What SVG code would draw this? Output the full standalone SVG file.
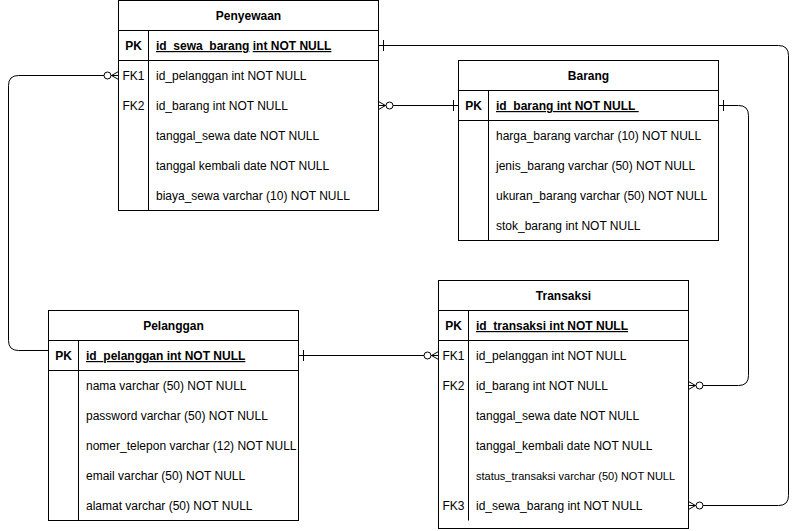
<svg xmlns="http://www.w3.org/2000/svg" width="798" height="531" viewBox="0 0 798 531">
<style>
.box{fill:#fff;stroke:#000;stroke-width:1}
.ln{fill:none;stroke:#000;stroke-width:1}
text{font-family:"Liberation Sans",Arial,sans-serif;font-size:12px;fill:#000}
.t{text-anchor:middle;font-weight:bold}
.k{text-anchor:middle}
.b{font-weight:bold}
.u{text-decoration:underline}
.s{font-size:11px}
</style>
<defs>
<marker id="one" markerUnits="userSpaceOnUse" viewBox="-10 -8 12 16" refX="0" refY="0" markerWidth="12" markerHeight="16" orient="auto-start-reverse" overflow="visible">
<path d="M-5,-5.5 V5.5" fill="none" stroke="#000" stroke-width="1"/>
</marker>
<marker id="zmany" markerUnits="userSpaceOnUse" viewBox="-16 -8 18 16" refX="0" refY="0" markerWidth="18" markerHeight="16" orient="auto-start-reverse" overflow="visible">
<path d="M-7,0 L0,-4 M-7,0 L0,0 M-7,0 L0,4" fill="none" stroke="#000" stroke-width="1"/>
<circle cx="-11" cy="0" r="3.5" fill="#fff" stroke="#000" stroke-width="1"/>
</marker>
</defs>

<g id="connectors">
<path class="ln" d="M378.5,45.5 H778.5 Q788.5,45.5 788.5,55.5 V495.5 Q788.5,505.5 778.5,505.5 H688.5" marker-start="url(#one)" marker-end="url(#zmany)"/>
<path class="ln" d="M378.5,105.5 H458.5" marker-start="url(#zmany)" marker-end="url(#one)"/>
<path class="ln" d="M718.5,105.5 H738.5 Q748.5,105.5 748.5,115.5 V375.5 Q748.5,385.5 738.5,385.5 H688.5" marker-start="url(#one)" marker-end="url(#zmany)"/>
<path class="ln" d="M298.5,355.5 H438.5" marker-start="url(#one)" marker-end="url(#zmany)"/>
<path class="ln" d="M48.5,350.5 H18.5 Q8.5,350.5 8.5,340.5 V85.5 Q8.5,75.5 18.5,75.5 H118.5" marker-end="url(#zmany)"/>
</g>

<g id="penyewaan">
<rect class="box" x="118.5" y="0.5" width="260" height="210"/>
<path class="ln" d="M118.5,30.5 H378.5 M118.5,60.5 H378.5 M148.5,30.5 V210.5"/>
<text class="t" x="248.5" y="20">Penyewaan</text>
<text class="k b" x="133.5" y="50">PK</text>
<text class="b" x="156" y="50"><tspan class="u">id_sewa_barang</tspan>&#160;<tspan class="u">int NOT NULL</tspan></text>
<text class="k" x="133.5" y="80">FK1</text>
<text x="156" y="80">id_pelanggan int NOT NULL</text>
<text class="k" x="133.5" y="110">FK2</text>
<text x="156" y="110">id_barang int NOT NULL</text>
<text x="156" y="140">tanggal_sewa date NOT NULL</text>
<text x="156" y="170">tanggal kembali date NOT NULL</text>
<text x="156" y="200">biaya_sewa varchar (10) NOT NULL</text>
</g>

<g id="barang">
<rect class="box" x="458.5" y="60.5" width="260" height="180"/>
<path class="ln" d="M458.5,90.5 H718.5 M458.5,120.5 H718.5 M488.5,90.5 V240.5"/>
<text class="t" x="588.5" y="80">Barang</text>
<text class="k b" x="473.5" y="110">PK</text>
<text class="b u" x="496" y="110">id_barang int NOT NULL&#160;</text>
<text x="496" y="140">harga_barang varchar (10) NOT NULL</text>
<text x="496" y="170">jenis_barang varchar (50) NOT NULL</text>
<text x="496" y="200">ukuran_barang varchar (50) NOT NULL</text>
<text x="496" y="230">stok_barang int NOT NULL</text>
</g>

<g id="pelanggan">
<rect class="box" x="48.5" y="310.5" width="250" height="210"/>
<path class="ln" d="M48.5,340.5 H298.5 M48.5,370.5 H298.5 M78.5,340.5 V520.5"/>
<text class="t" x="173.5" y="330">Pelanggan</text>
<text class="k b" x="63.5" y="360">PK</text>
<text class="b u" x="86" y="360">id_pelanggan int NOT NULL</text>
<text x="86" y="390">nama varchar (50) NOT NULL</text>
<text x="86" y="420">password varchar (50) NOT NULL</text>
<text x="86" y="450">nomer_telepon varchar (12) NOT NULL</text>
<text x="86" y="480">email varchar (50) NOT NULL</text>
<text x="86" y="510">alamat varchar (50) NOT NULL</text>
</g>

<g id="transaksi">
<rect class="box" x="438.5" y="280.5" width="250" height="248"/>
<path class="ln" d="M438.5,310.5 H688.5 M438.5,340.5 H688.5 M468.5,310.5 V520.5"/>
<text class="t" x="563.5" y="300">Transaksi</text>
<text class="k b" x="453.5" y="330">PK</text>
<text class="b u" x="476" y="330">id_transaksi int NOT NULL</text>
<text class="k" x="453.5" y="360">FK1</text>
<text x="476" y="360">id_pelanggan int NOT NULL</text>
<text class="k" x="453.5" y="390">FK2</text>
<text x="476" y="390">id_barang int NOT NULL</text>
<text x="476" y="420">tanggal_sewa date NOT NULL</text>
<text x="476" y="450">tanggal_kembali date NOT NULL</text>
<text class="s" x="476" y="480">status_transaksi varchar (50) NOT NULL</text>
<text class="k" x="453.5" y="510">FK3</text>
<text x="476" y="510">id_sewa_barang int NOT NULL</text>
</g>
</svg>
